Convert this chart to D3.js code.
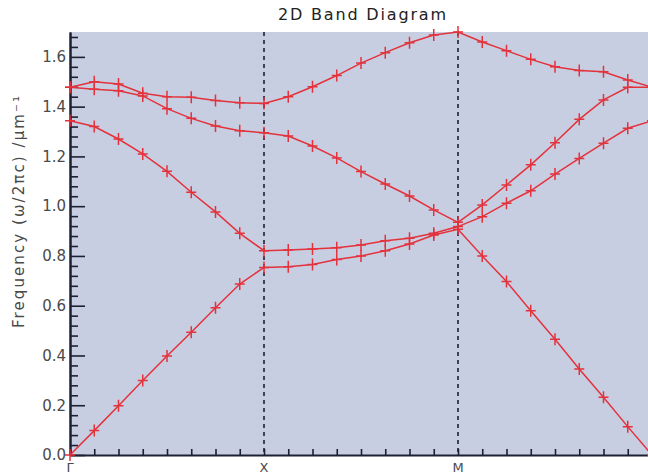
<!DOCTYPE html>
<html>
<head>
<meta charset="utf-8">
<script src="https://cdn.jsdelivr.net/npm/d3@7"></script>
<style>
  body { margin: 0; background: #fff; }
</style>
</head>
<body>
<div id="chart"></div>
<script>
// k-path labels and their index along the path
var kLabels = ["\u0393", "X", "M", "\u0393"];
var kIndex = [0, 8, 16, 24];

// band frequencies (w/2pi c) at each of the 25 k-points
var band1 = [0.0, 0.098, 0.198, 0.299, 0.398, 0.493, 0.592, 0.687, 0.754,
    0.757, 0.766, 0.786, 0.80, 0.821, 0.848, 0.884, 0.907,
    0.80, 0.697, 0.58, 0.465, 0.346, 0.232, 0.114, 0.0];
var band2 = [1.343, 1.32, 1.27, 1.21, 1.14, 1.056, 0.977, 0.891, 0.821,
    0.824, 0.828, 0.833, 0.844, 0.861, 0.871, 0.891, 0.918,
    0.958, 1.012, 1.062, 1.129, 1.192, 1.253, 1.313, 1.343];
var band3 = [1.478, 1.47, 1.464, 1.443, 1.392, 1.353, 1.322, 1.303, 1.295,
    1.282, 1.242, 1.194, 1.139, 1.089, 1.041, 0.985, 0.935,
    1.005, 1.085, 1.166, 1.255, 1.349, 1.427, 1.478, 1.478];
var band4 = [1.478, 1.50, 1.491, 1.454, 1.44, 1.438, 1.425, 1.416, 1.413,
    1.44, 1.48, 1.525, 1.575, 1.617, 1.657, 1.688, 1.70,
    1.66, 1.625, 1.59, 1.56, 1.545, 1.54, 1.507, 1.478];

var yTicks = [0, 0.2, 0.4, 0.6, 0.8, 1.0, 1.2, 1.4, 1.6];

var bands = [band1, band2, band3, band4];

var width = 648;
var height = 476;
var mLeft = 70, mRight = 652, mTop = 32, mBottom = 455;
var red = "#e3323c";
var axisColor = "#1c2033";
var textColor = "#4a4a4a";

var svg = d3.select('#chart')
    .append('svg')
    .attr('width', width)
    .attr('height', height);

var x = d3.scaleLinear().domain([0, 24]).range([mLeft, mRight]);
var y = d3.scaleLinear().domain([0, 1.7]).range([mBottom, mTop]);

// plot background
svg.append('rect')
    .attr('x', mLeft)
    .attr('y', mTop)
    .attr('width', mRight - mLeft)
    .attr('height', mBottom - mTop)
    .attr('fill', '#c8cee1');

// dashed lines at X and M
svg.selectAll('line.sym')
    .data(kIndex.slice(1, 3))
    .enter()
    .append('line')
    .attr('class', 'sym')
    .attr('x1', d => x(d))
    .attr('x2', d => x(d))
    .attr('y1', mTop)
    .attr('y2', mBottom)
    .attr('stroke', axisColor)
    .attr('stroke-width', 1.6)
    .attr('stroke-dasharray', '4,4');

// y axis with minor ticks
var yAxis = d3.axisLeft(y)
    .tickValues(yTicks)
    .tickFormat(d3.format('.1f'))
    .tickSizeInner(-15)
    .tickSizeOuter(0)
    .tickPadding(4);

var yMinor = d3.axisLeft(y)
    .tickValues(d3.range(0, 1.7, 0.04).filter(v => Math.abs(v * 5 - Math.round(v * 5)) > 0.01))
    .tickSizeInner(-8)
    .tickSizeOuter(0)
    .tickFormat('');

var gy = svg.append('g')
    .attr('transform', 'translate(' + mLeft + ',0)')
    .call(yAxis);
svg.append('g')
    .attr('transform', 'translate(' + mLeft + ',0)')
    .call(yMinor);

gy.selectAll('text')
    .attr('fill', textColor)
    .style('font-size', '15px')
    .style('font-family', 'DejaVu Sans');

svg.selectAll('.domain')
    .attr('stroke', axisColor)
    .attr('stroke-width', 2);
svg.selectAll('.tick line')
    .attr('stroke', axisColor)
    .attr('stroke-width', 1.6);

// x axis: small ticks at every k-point, labels at high-symmetry points
var xAxis = d3.axisBottom(x)
    .tickValues(d3.range(0, 25))
    .tickSizeInner(-6)
    .tickSizeOuter(0)
    .tickFormat('');

var gx = svg.append('g')
    .attr('transform', 'translate(0,' + mBottom + ')')
    .call(xAxis);
gx.select('.domain').attr('stroke', axisColor).attr('stroke-width', 2);
gx.selectAll('.tick line').attr('stroke', axisColor).attr('stroke-width', 1.6);

svg.selectAll('text.klabel')
    .data(kIndex)
    .enter()
    .append('text')
    .attr('class', 'klabel')
    .attr('x', d => x(d))
    .attr('y', 472)
    .attr('text-anchor', 'middle')
    .attr('fill', textColor)
    .style('font-size', '13px')
    .style('font-family', 'DejaVu Sans')
    .text((d, i) => kLabels[i]);

// bands
var line = d3.line()
    .x((d, i) => x(i))
    .y(d => y(d));

svg.selectAll('path.band')
    .data(bands)
    .enter()
    .append('path')
    .attr('class', 'band')
    .attr('d', d => line(d))
    .attr('fill', 'none')
    .attr('stroke', red)
    .attr('stroke-width', 1.5);

// "+" markers
var pts = [];
bands.forEach(function(b) {
    b.forEach(function(v, i) { pts.push({i: i, v: v}); });
});

svg.selectAll('path.mark')
    .data(pts)
    .enter()
    .append('path')
    .attr('class', 'mark')
    .attr('d', d => {
        var cx = x(d.i), cy = y(d.v);
        return 'M' + (cx - 5) + ',' + cy + 'H' + (cx + 5) +
            'M' + cx + ',' + (cy - 6) + 'V' + (cy + 6);
    })
    .attr('stroke', red)
    .attr('stroke-width', 1.5);

// title
svg.append('text')
    .attr('x', 362)
    .attr('y', 20)
    .attr('text-anchor', 'middle')
    .attr('fill', '#222')
    .attr('textLength', 168)
    .attr('lengthAdjust', 'spacing')
    .style('font-size', '16px')
    .style('font-family', 'DejaVu Sans')
    .text('2D Band Diagram');

// y label
svg.append('text')
    .attr('transform', 'translate(24,212) rotate(-90)')
    .attr('text-anchor', 'middle')
    .attr('fill', textColor)
    .attr('textLength', 232)
    .attr('lengthAdjust', 'spacing')
    .style('font-size', '15px')
    .style('font-family', 'DejaVu Sans')
    .text('Frequency (\u03c9/2\u03c0c) /\u03bcm\u207b\u00b9');
</script>
</body>
</html>
